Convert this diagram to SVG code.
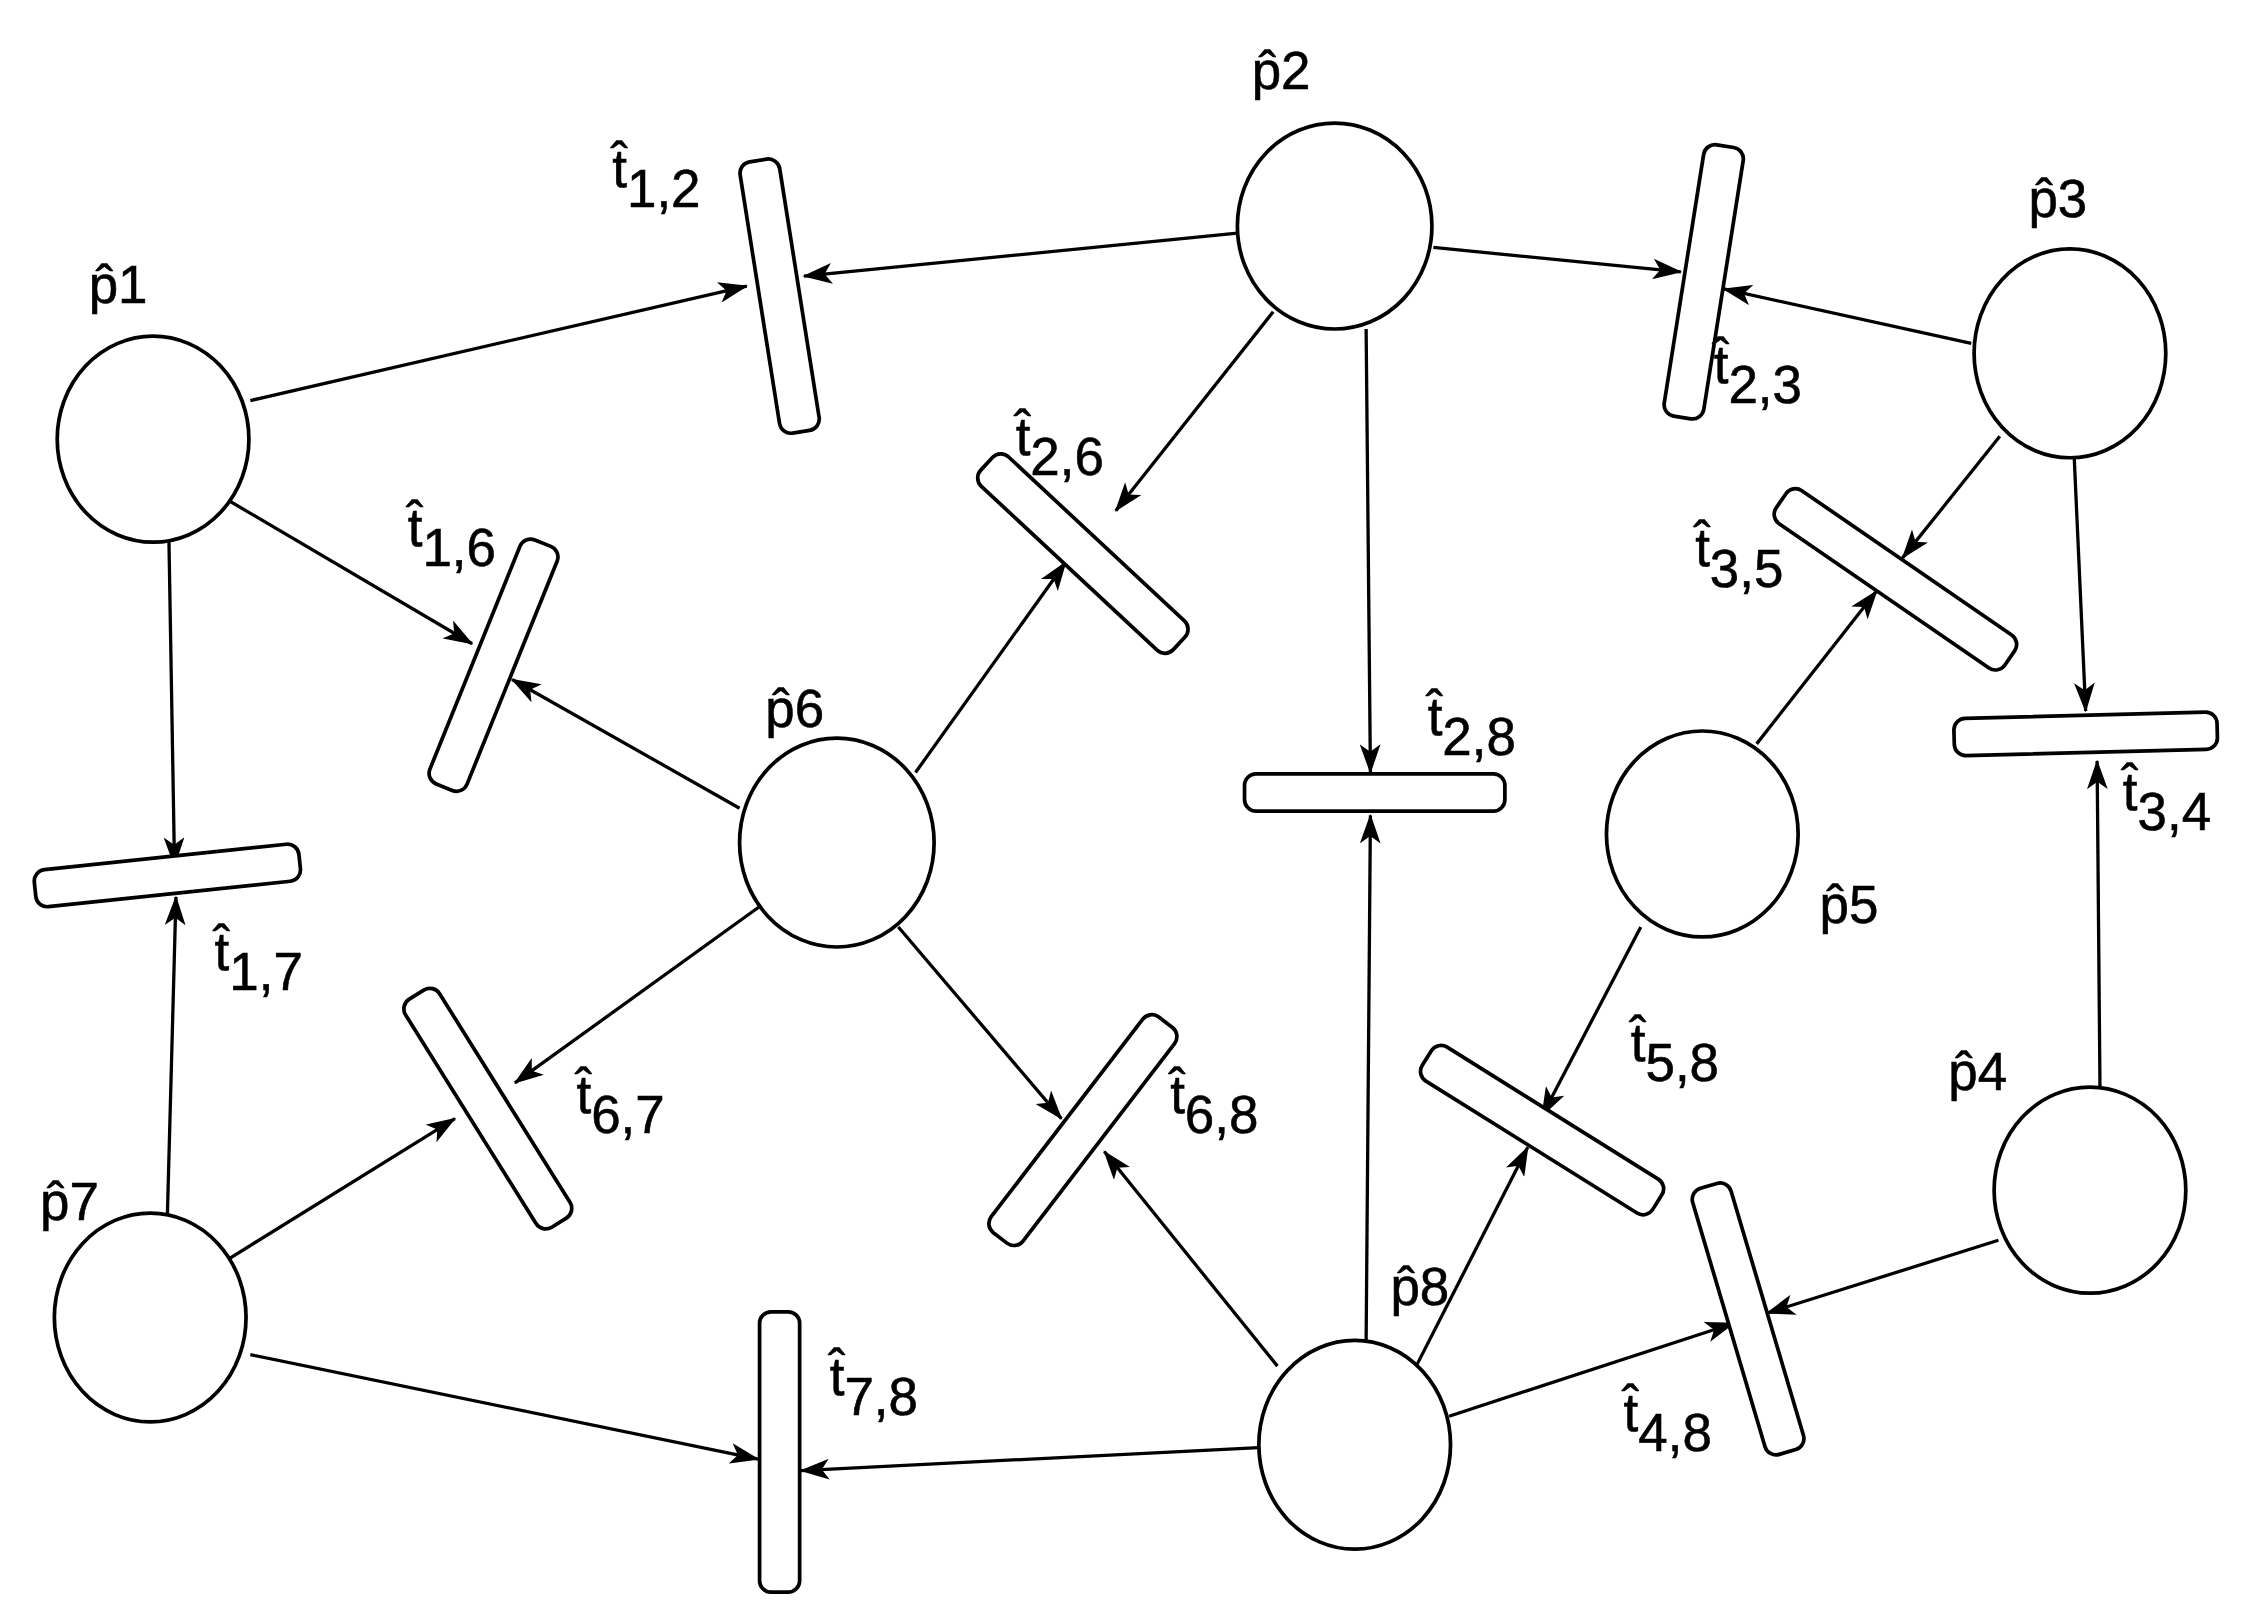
<svg xmlns="http://www.w3.org/2000/svg" width="2243" height="1619" viewBox="0 0 2243 1619">
<style>
.pl{fill:#fff;stroke:#000;stroke-width:2.6}
.tr{fill:#fff;stroke:#000;stroke-width:2.6}
.ar{stroke:#000;stroke-width:2.3;fill:none;marker-end:url(#ah)}
text{font-family:"Liberation Sans",Arial,sans-serif;font-size:37px;fill:#000;stroke:#000;stroke-width:0.4}
</style>
<defs>
<marker id="ah" viewBox="0 0 20 14" refX="19" refY="7" markerWidth="9" markerHeight="6.3" orient="auto"><path d="M0,0 L20,7 L0,14 L5,7 z" fill="#000"/></marker>
</defs>
<rect width="2243" height="1619" fill="#fff"/>
<g transform="scale(1.4305)">
<g id="connectors">
<line class="ar" x1="175" y1="280" x2="522" y2="200"/>
<line class="ar" x1="865" y1="163" x2="562" y2="193"/>
<line class="ar" x1="1002" y1="173" x2="1175" y2="190"/>
<line class="ar" x1="1378" y1="240" x2="1205" y2="202"/>
<line class="ar" x1="890" y1="218" x2="780" y2="357"/>
<line class="ar" x1="955" y1="230" x2="958" y2="540"/>
<line class="ar" x1="1398" y1="305" x2="1330" y2="390"/>
<line class="ar" x1="1450" y1="320" x2="1458" y2="497"/>
<line class="ar" x1="1468" y1="760" x2="1466" y2="532"/>
<line class="ar" x1="1228" y1="520" x2="1312" y2="413"/>
<line class="ar" x1="1147" y1="648" x2="1078" y2="780"/>
<line class="ar" x1="160" y1="350" x2="330" y2="450"/>
<line class="ar" x1="118" y1="372" x2="122" y2="605"/>
<line class="ar" x1="517" y1="565" x2="358" y2="475"/>
<line class="ar" x1="640" y1="540" x2="745" y2="393"/>
<line class="ar" x1="532" y1="633" x2="360" y2="757"/>
<line class="ar" x1="628" y1="648" x2="742" y2="782"/>
<line class="ar" x1="117" y1="850" x2="123" y2="627"/>
<line class="ar" x1="160" y1="880" x2="318" y2="782"/>
<line class="ar" x1="175" y1="947" x2="530" y2="1020"/>
<line class="ar" x1="880" y1="1012" x2="560" y2="1028"/>
<line class="ar" x1="893" y1="955" x2="772" y2="805"/>
<line class="ar" x1="955" y1="938" x2="958" y2="570"/>
<line class="ar" x1="990" y1="955" x2="1068" y2="802"/>
<line class="ar" x1="1013" y1="990" x2="1212" y2="925"/>
<line class="ar" x1="1397" y1="867" x2="1235" y2="918"/>
</g>
<g id="p1"><ellipse class="pl" cx="107" cy="307" rx="67" ry="72"/><text x="62" y="212">p̂1</text></g>
<g id="p2"><ellipse class="pl" cx="933" cy="158" rx="68" ry="72"/><text x="875" y="62">p̂2</text></g>
<g id="p3"><ellipse class="pl" cx="1447" cy="247" rx="67" ry="73"/><text x="1418" y="152">p̂3</text></g>
<g id="p4"><ellipse class="pl" cx="1461" cy="832" rx="67" ry="72"/><text x="1362" y="762">p̂4</text></g>
<g id="p5"><ellipse class="pl" cx="1190" cy="583" rx="67" ry="72"/><text x="1272" y="645">p̂5</text></g>
<g id="p6"><ellipse class="pl" cx="585" cy="589" rx="68" ry="73"/><text x="535" y="508">p̂6</text></g>
<g id="p7"><ellipse class="pl" cx="105" cy="921" rx="67" ry="73"/><text x="28" y="853">p̂7</text></g>
<g id="p8"><ellipse class="pl" cx="947" cy="1010" rx="67" ry="73"/><text x="972" y="912">p̂8</text></g>
<g id="t12"><rect class="tr" x="-14" y="-96" width="28" height="192" rx="8" transform="translate(545,207) rotate(-9)"/><text x="428" y="131">t̂<tspan dy="14">1,2</tspan></text></g>
<g id="t23"><rect class="tr" x="-14" y="-96" width="28" height="192" rx="8" transform="translate(1191,197) rotate(9)"/><text x="1198" y="268">t̂<tspan dy="14">2,3</tspan></text></g>
<g id="t26"><rect class="tr" x="-14" y="-92" width="28" height="184" rx="8" transform="translate(757,387) rotate(-47)"/><text x="710" y="318">t̂<tspan dy="14">2,6</tspan></text></g>
<g id="t16"><rect class="tr" x="-14" y="-92" width="28" height="184" rx="8" transform="translate(345,465) rotate(22)"/><text x="285" y="382">t̂<tspan dy="14">1,6</tspan></text></g>
<g id="t17"><rect class="tr" x="-93" y="-13" width="186" height="26" rx="8" transform="translate(117,612) rotate(-6)"/><text x="150" y="678">t̂<tspan dy="14">1,7</tspan></text></g>
<g id="t28"><rect class="tr" x="-91" y="-13" width="182" height="26" rx="8" transform="translate(961,554)"/><text x="998" y="514">t̂<tspan dy="14">2,8</tspan></text></g>
<g id="t35"><rect class="tr" x="-14" y="-97" width="28" height="194" rx="8" transform="translate(1325,405) rotate(-55.5)"/><text x="1185" y="396">t̂<tspan dy="14">3,5</tspan></text></g>
<g id="t34"><rect class="tr" x="-92" y="-13" width="184" height="26" rx="8" transform="translate(1458,513) rotate(-1.5)"/><text x="1484" y="566">t̂<tspan dy="14">3,4</tspan></text></g>
<g id="t67"><rect class="tr" x="-14" y="-94" width="28" height="188" rx="8" transform="translate(341,775) rotate(-32)"/><text x="403" y="778">t̂<tspan dy="14">6,7</tspan></text></g>
<g id="t68"><rect class="tr" x="-14" y="-95" width="28" height="190" rx="8" transform="translate(757,790) rotate(37.5)"/><text x="818" y="778">t̂<tspan dy="14">6,8</tspan></text></g>
<g id="t58"><rect class="tr" x="-14" y="-95" width="28" height="190" rx="8" transform="translate(1078,790) rotate(-58)"/><text x="1140" y="742">t̂<tspan dy="14">5,8</tspan></text></g>
<g id="t48"><rect class="tr" x="-14" y="-97" width="28" height="194" rx="8" transform="translate(1222,922) rotate(-16.5)"/><text x="1135" y="1000">t̂<tspan dy="14">4,8</tspan></text></g>
<g id="t78"><rect class="tr" x="-14" y="-98" width="28" height="196" rx="8" transform="translate(545,1015)"/><text x="580" y="975">t̂<tspan dy="14">7,8</tspan></text></g>
</g>
</svg>
